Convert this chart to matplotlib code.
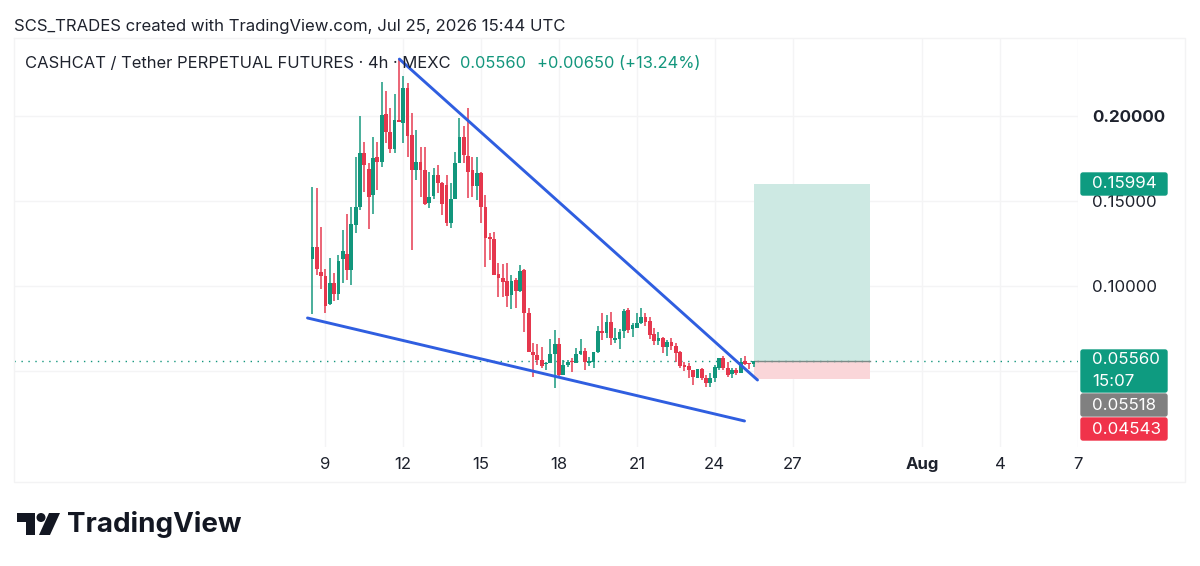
import numpy as np
import matplotlib
matplotlib.use("Agg")
import matplotlib.pyplot as plt
from matplotlib.patches import Rectangle, FancyBboxPatch, Circle, Polygon

plt.rcParams['font.family'] = ['Inter', 'DejaVu Sans']

# 4h candles, first one at Jul 8 12:00
opens = [0.1159, 0.1229, 0.1082, 0.1059, 0.0894, 0.1018, 0.0953, 0.1159, 0.1188, 0.1094,
         0.1359, 0.1465, 0.1782, 0.1688, 0.1535, 0.1759, 0.1729, 0.2012, 0.1906, 0.1806,
         0.1976, 0.1959, 0.2165, 0.1888, 0.1682, 0.1729, 0.1682, 0.1488, 0.1529, 0.1653,
         0.1606, 0.1594, 0.1371, 0.1512, 0.1724, 0.1876, 0.1765, 0.1682, 0.1588, 0.1665,
         0.1465, 0.1288, 0.1276, 0.1071, 0.1047, 0.1029, 0.0947, 0.1035, 0.0971, 0.1094,
         0.0841, 0.0612, 0.0594, 0.0565, 0.0541, 0.0547, 0.0600, 0.0659, 0.0476, 0.0535,
         0.0559, 0.0547, 0.0600, 0.0618, 0.0547, 0.0553, 0.0612, 0.0735, 0.0724, 0.0788,
         0.0682, 0.0688, 0.0735, 0.0859, 0.0747, 0.0753, 0.0782, 0.0818, 0.0794, 0.0718,
         0.0676, 0.0694, 0.0641, 0.0671, 0.0647, 0.0612, 0.0535, 0.0529, 0.0506, 0.0459,
         0.0512, 0.0459, 0.0429, 0.0459, 0.0518, 0.0576, 0.0518, 0.0482, 0.0506, 0.0488,
         0.0559, 0.0547, 0.0541]
highs = [0.1582, 0.1576, 0.1347, 0.1100, 0.1165, 0.1076, 0.1182, 0.1329, 0.1424, 0.1465,
         0.1759, 0.2000, 0.1847, 0.1724, 0.1876, 0.1847, 0.2200, 0.2147, 0.2047, 0.2129,
         0.2335, 0.2235, 0.2194, 0.2018, 0.1918, 0.1818, 0.1818, 0.1671, 0.1694, 0.1712,
         0.1612, 0.1653, 0.1606, 0.1788, 0.1988, 0.1941, 0.2047, 0.1759, 0.1759, 0.1671,
         0.1535, 0.1312, 0.1318, 0.1135, 0.1129, 0.1135, 0.1065, 0.1047, 0.1124, 0.1100,
         0.0871, 0.0665, 0.0659, 0.0641, 0.0553, 0.0688, 0.0741, 0.0694, 0.0565, 0.0565,
         0.0576, 0.0635, 0.0688, 0.0635, 0.0582, 0.0612, 0.0765, 0.0841, 0.0829, 0.0847,
         0.0753, 0.0747, 0.0865, 0.0871, 0.0782, 0.0841, 0.0871, 0.0841, 0.0818, 0.0753,
         0.0729, 0.0700, 0.0682, 0.0694, 0.0665, 0.0618, 0.0553, 0.0547, 0.0506, 0.0512,
         0.0518, 0.0476, 0.0488, 0.0535, 0.0576, 0.0588, 0.0553, 0.0518, 0.0518, 0.0576,
         0.0588, 0.0547, 0.0559]
lows = [0.0835, 0.1065, 0.0982, 0.0841, 0.0888, 0.0912, 0.0918, 0.1018, 0.1035, 0.1006,
        0.1312, 0.1447, 0.1553, 0.1335, 0.1424, 0.1565, 0.1700, 0.1841, 0.1782, 0.1782,
        0.1965, 0.1841, 0.1759, 0.1212, 0.1624, 0.1524, 0.1476, 0.1459, 0.1512, 0.1547,
        0.1418, 0.1353, 0.1341, 0.1512, 0.1729, 0.1724, 0.1518, 0.1524, 0.1506, 0.1371,
        0.1112, 0.1153, 0.1065, 0.0935, 0.0935, 0.0876, 0.0865, 0.0871, 0.0965, 0.0729,
        0.0724, 0.0465, 0.0535, 0.0518, 0.0506, 0.0547, 0.0400, 0.0465, 0.0476, 0.0524,
        0.0494, 0.0547, 0.0594, 0.0506, 0.0529, 0.0518, 0.0606, 0.0682, 0.0694, 0.0653,
        0.0665, 0.0629, 0.0694, 0.0724, 0.0700, 0.0753, 0.0776, 0.0765, 0.0688, 0.0653,
        0.0653, 0.0606, 0.0588, 0.0624, 0.0553, 0.0518, 0.0500, 0.0459, 0.0418, 0.0459,
        0.0447, 0.0406, 0.0406, 0.0435, 0.0506, 0.0506, 0.0465, 0.0459, 0.0476, 0.0488,
        0.0535, 0.0512, 0.0524]
closes = [0.1229, 0.1100, 0.1059, 0.0882, 0.1018, 0.0953, 0.1147, 0.1206, 0.1094, 0.1365,
          0.1465, 0.1782, 0.1712, 0.1524, 0.1753, 0.1729, 0.2006, 0.1906, 0.1806, 0.1976,
          0.1965, 0.2165, 0.1882, 0.1682, 0.1729, 0.1682, 0.1482, 0.1524, 0.1653, 0.1606,
          0.1482, 0.1371, 0.1512, 0.1724, 0.1876, 0.1771, 0.1671, 0.1588, 0.1665, 0.1465,
          0.1282, 0.1276, 0.1065, 0.1047, 0.1024, 0.0941, 0.1029, 0.0971, 0.1088, 0.0841,
          0.0612, 0.0594, 0.0565, 0.0529, 0.0547, 0.0600, 0.0659, 0.0476, 0.0535, 0.0553,
          0.0553, 0.0600, 0.0618, 0.0553, 0.0559, 0.0612, 0.0735, 0.0724, 0.0788, 0.0694,
          0.0694, 0.0729, 0.0853, 0.0741, 0.0771, 0.0782, 0.0818, 0.0788, 0.0712, 0.0676,
          0.0694, 0.0641, 0.0671, 0.0647, 0.0606, 0.0529, 0.0524, 0.0506, 0.0465, 0.0512,
          0.0459, 0.0429, 0.0459, 0.0524, 0.0576, 0.0518, 0.0476, 0.0506, 0.0488, 0.0553,
          0.0541, 0.0541, 0.0556]

# days counted from Jul 1 = 1, so Aug 1 = 32
day_ticks = [9, 12, 15, 18, 21, 24, 27, 32, 35, 38]
day_labels = ['9', '12', '15', '18', '21', '24', '27', 'Aug', '4', '7']
price_ticks = [0.05, 0.10, 0.15, 0.20]
price_labels = ['', '0.10000', '0.15000', '0.20000']

# trendlines: (day, price) end points
upper_days = [11.85, 25.65]
upper_prices = [0.2335, 0.0447]
lower_days = [8.31, 25.15]
lower_prices = [0.0812, 0.0206]

# long position tool
entry = 0.0556
target = 0.15994
stop = 0.04543
position_start = 25.5
position_end = 30.0

GREEN = '#12967c'
RED = '#e5374d'
BLUE = '#2f5ee0'
TEXT = '#1e222d'
GRID = '#f4f4f5'

fig = plt.figure(figsize=(12, 5.66), dpi=100, facecolor='white')
W, H = 1200, 566
left, right, top, bottom = 14, 1078, 38, 447
ax = fig.add_axes([left / W, 1 - bottom / H, (right - left) / W, (bottom - top) / H])
ax.set_xlim(-3, 37.92)
ax.set_ylim(0.0053, 0.2459)

# candles
days = 8.5 + np.arange(len(opens)) / 6
for d, o, h, l, c in zip(days, opens, highs, lows, closes):
    col = GREEN if c >= o else RED
    ax.vlines(d, l, h, color=col, lw=1.2, alpha=0.9, zorder=3)
    ax.bar(d, abs(c - o), bottom=min(o, c), width=0.145, color=col, linewidth=0, zorder=4)

# position boxes and entry line
ax.add_patch(Rectangle((position_start, entry), position_end - position_start, target - entry,
                       facecolor='#cde9e3', edgecolor='none', zorder=2))
ax.add_patch(Rectangle((position_start, stop), position_end - position_start, entry - stop,
                       facecolor='#fad6d9', edgecolor='none', zorder=2))
ax.plot([position_start, position_end], [entry, entry], color='#7d8a87', lw=1, zorder=3)

# last price line
ax.axhline(entry, color=GREEN, lw=1, ls=(0, (1, 4)), zorder=2)

# wedge
ax.plot(upper_days, upper_prices, color=BLUE, lw=2.1, zorder=5, solid_capstyle='round')
ax.plot(lower_days, lower_prices, color=BLUE, lw=2.1, zorder=5, solid_capstyle='round')

ax.set_xticks(day_ticks)
ax.set_xticklabels(day_labels, fontsize=12)
for lab, txt in zip(ax.get_xticklabels(), day_labels):
    if txt == 'Aug':
        lab.set_fontweight('bold')
ax.yaxis.tick_right()
ax.set_yticks(price_ticks)
ax.set_yticklabels(price_labels, fontsize=12.2)
ax.get_yticklabels()[3].set_fontweight('bold')
ax.tick_params(axis='both', length=0, colors=TEXT)
ax.tick_params(axis='x', pad=7.5)
ax.tick_params(axis='y', pad=10)
ax.grid(True, color=GRID, lw=1)
ax.set_axisbelow(True)
for name, sp in ax.spines.items():
    sp.set_visible(False)

# overlay in pixel units for header, price tags, panel frame and logo
ov = fig.add_axes([0, 0, 1, 1], facecolor='none')
ov.set_xlim(0, W)
ov.set_ylim(H, 0)
ov.axis('off')

frame = dict(color='#f3f3f4', lw=1, zorder=1)
ov.plot([14, 1185, 1185, 14, 14], [38, 38, 482, 482, 38], **frame)

ov.text(14, 26, 'SCS_TRADES created with TradingView.com, Jul 25, 2026 15:44 UTC',
        fontsize=12.05, color=TEXT, va='center', ha='left')
ov.text(25, 63.5, 'CASHCAT / Tether PERPETUAL FUTURES · 4h · MEXC',
        fontsize=11.95, color=TEXT, va='center', ha='left')
ov.text(460, 63.5, '0.05560', fontsize=11.85, color=GREEN, va='center', ha='left')
ov.text(537, 63.5, '+0.00650 (+13.24%)', fontsize=11.85, color=GREEN, va='center', ha='left')


def price_tag(y0, y1, color, lines):
    ov.add_patch(FancyBboxPatch((1081, y0 + 1), 86, y1 - y0 - 2,
                                boxstyle='round,pad=0,rounding_size=2',
                                facecolor=color, edgecolor=color, lw=1, zorder=3))
    step = (y1 - y0) / len(lines)
    for k, line in enumerate(lines):
        ov.text(1092, y0 + step * (k + 0.5), line, color='white', fontsize=12.2,
                va='center', ha='left', zorder=4)


price_tag(172, 196, '#0e9b80', [f'{target:.5f}'])
price_tag(349, 393, '#0e9b80', [f'{entry:.5f}', '15:07'])
price_tag(393, 417, '#808080', ['0.05518'])
price_tag(417, 441, '#f0334a', [f'{stop:.5f}'])

# logo
LOGO = '#131722'
ov.add_patch(Polygon([(17, 513), (35, 513), (35, 535), (26, 535), (26, 522), (17, 522)],
                     facecolor=LOGO, edgecolor='none'))
ov.add_patch(Circle((41, 517.5), 4.5, facecolor=LOGO, edgecolor='none'))
ov.add_patch(Polygon([(49, 513), (60, 513), (50, 535), (39, 535)],
                     facecolor=LOGO, edgecolor='none'))
ov.text(67, 524, 'TradingView', fontsize=20, fontweight='bold', color=LOGO,
        va='center', ha='left')

fig.savefig('out.png', dpi=100, facecolor='white')
